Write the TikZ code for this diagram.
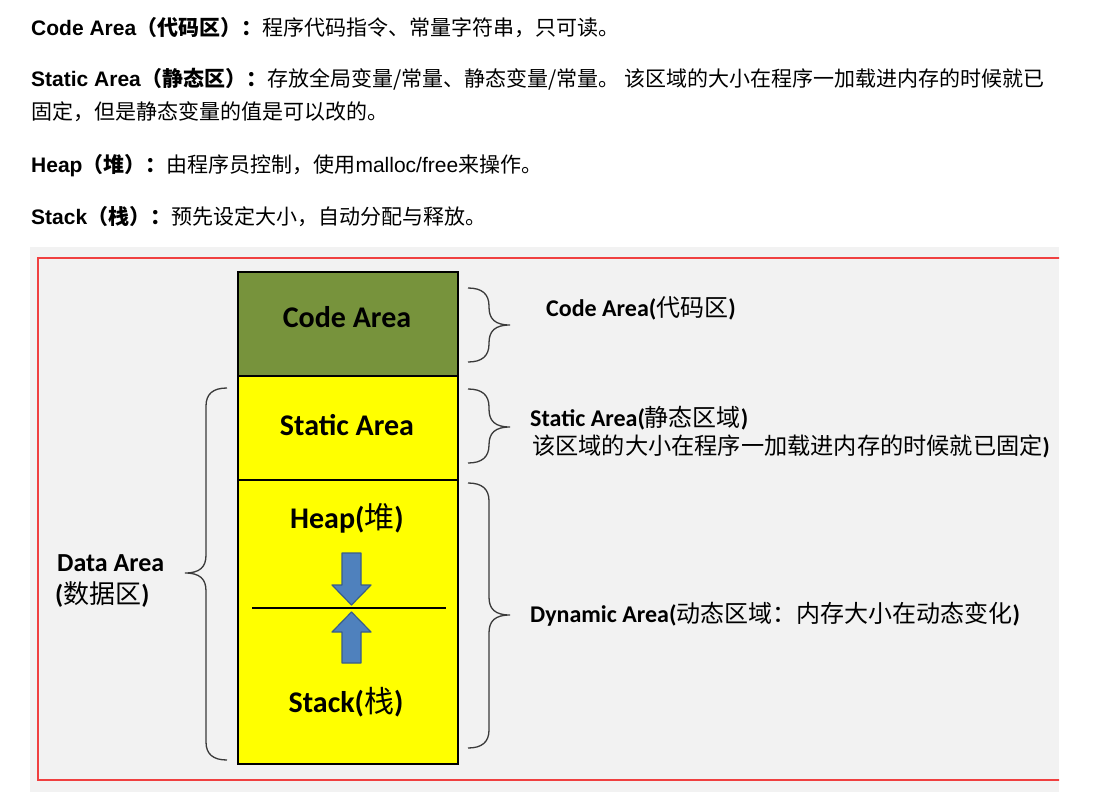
\documentclass[tikz,border=0pt]{standalone}
\usepackage{fontspec}
\setmainfont{Liberation Sans}
\newfontfamily\cjk{Noto Sans CJK SC}
\newfontfamily\calib{Carlito}
\newcommand\zh[1]{{\cjk\mdseries #1}}
\newcommand\zhb[1]{{\cjk\bfseries #1}}
\definecolor{olivebox}{HTML}{77933C}
\definecolor{ybox}{HTML}{FFFF00}
\definecolor{bgray}{HTML}{F2F2F2}
\definecolor{arrowfill}{HTML}{4F81BD}
\definecolor{arrowline}{HTML}{385D8A}
\definecolor{redframe}{HTML}{F04040}
\definecolor{bracecol}{HTML}{3A3A3A}
\tikzset{
  toptext/.style={anchor=base west, inner sep=0pt, font=\fontsize{21}{25}\selectfont},
  area/.style={draw=black, line width=2.2pt, minimum width=220pt, inner sep=0pt},
  boxlabel/.style={inner sep=0pt, font=\calib\bfseries\fontsize{30}{34}\selectfont, text height=0.72em, text depth=0.22em},
  sidelabel/.style={anchor=west, inner sep=0pt, font=\calib\bfseries\fontsize{24}{28}\selectfont, text height=0.72em, text depth=0.22em},
  datalabel/.style={anchor=west, inner sep=0pt, font=\calib\bfseries\fontsize{26}{30}\selectfont, text height=0.72em, text depth=0.22em},
  bracestyle/.style={draw=bracecol, line width=1.3pt},
  blockarrow/.style={fill=arrowfill, draw=arrowline, line width=1.2pt, line join=round},
}
\newcommand\rbr[4]{% x0, top, mid, bot : right-pointing brace
  \draw[bracestyle] (#1,#2) .. controls ({#1+14},#2) and ({#1+21},{#2+6}) .. ({#1+21},{#2+18})
    -- ({#1+21},{#3-18}) .. controls ({#1+21},{#3-6}) and ({#1+27},#3) .. ({#1+42},#3)
    .. controls ({#1+27},#3) and ({#1+21},{#3+6}) .. ({#1+21},{#3+18})
    -- ({#1+21},{#4-18}) .. controls ({#1+21},{#4-6}) and ({#1+14},#4) .. (#1,#4);}
\newcommand\lbr[4]{% x0 (right end), top, mid, bot : left-pointing brace
  \draw[bracestyle] (#1,#2) .. controls ({#1-14},#2) and ({#1-21},{#2+6}) .. ({#1-21},{#2+18})
    -- ({#1-21},{#3-18}) .. controls ({#1-21},{#3-6}) and ({#1-27},#3) .. ({#1-42},#3)
    .. controls ({#1-27},#3) and ({#1-21},{#3+6}) .. ({#1-21},{#3+18})
    -- ({#1-21},{#4-18}) .. controls ({#1-21},{#4-6}) and ({#1-14},#4) .. (#1,#4);}
\begin{document}
\begin{tikzpicture}[x=1pt,y=-1pt]
\useasboundingbox (0,0) rectangle (1093,803);
\fill[white] (0,0) rectangle (1093,803);

% ---- top description text ----
\node[toptext] (t1) at (31,35) {\textbf{Code Area}\zhb{（代码区）：}\zh{程序代码指令、常量字符串，只可读。}};
\node[toptext] (t2) at (31,86) {\textbf{Static Area}\zhb{（静态区）：}\zh{存放全局变量/常量、静态变量/常量。 该区域的大小在程序一加载进内存的时候就已}};
\node[toptext] (t3) at (31,119) {\zh{固定，但是静态变量的值是可以改的。}};
\node[toptext] (t4) at (31,172) {\textbf{Heap}\zhb{（堆）：}\zh{由程序员控制，使用}malloc/free\zh{来操作。}};
\node[toptext] (t5) at (31,224) {\textbf{Stack}\zhb{（栈）：}\zh{预先设定大小，自动分配与释放。}};

% ---- diagram panel ----
\fill[bgray] (30,247) rectangle (1059,792);
\begin{scope}
\clip (30,247) rectangle (1059,792);
\draw[redframe, line width=1.2pt] (38,258) rectangle (1075,780);

% memory column
\node[area, fill=olivebox, minimum height=104pt, anchor=north west] (code) at (237,271) {};
\node[area, fill=ybox, minimum height=104pt, anchor=north west] (static) at (237,375) {};
\node[area, fill=ybox, minimum height=284pt, anchor=north west] (dyn) at (237,479) {};

\node[boxlabel] (codelbl) at (347,325) {Code Area};
\node[boxlabel] (staticlbl) at (347,433) {Static Area};
\node[boxlabel] (heaplbl) at (347,526) {Heap(\zh{堆})};
\node[boxlabel] (stacklbl) at (346,710) {Stack(\zh{栈})};

% heap / stack boundary
\coordinate (divl) at (252,608);
\coordinate (divr) at (446,608);
\draw[black, line width=1.3pt] (divl) -- (divr);

% block arrows
\draw[blockarrow] (342,553) -- (361,553) -- (361,585) -- (371,585) -- (351.5,605) -- (332,585) -- (342,585) -- cycle;
\draw[blockarrow] (342,663) -- (361,663) -- (361,632) -- (371,632) -- (351.5,612) -- (332,632) -- (342,632) -- cycle;

% braces
\rbr{468}{288}{325}{362}
\rbr{468}{389}{427}{463}
\rbr{468}{483}{615}{748}
\lbr{227}{388}{573}{760}

% side labels
\node[sidelabel] (codeside) at (546,314) {Code Area(\zh{代码区})};
\node[sidelabel] (staticside) at (530,424) {Static Area(\zh{静态区域})};
\node[sidelabel, font=\calib\bfseries\fontsize{23.2}{28}\selectfont] (staticside2) at (532,452) {\zh{该区域的大小在程序一加载进内存的时候就已固定})};
\node[sidelabel] (dynside) at (530,620) {Dynamic Area(\zh{动态区域：内存大小在动态变化})};
\node[datalabel] (data1) at (57,569) {Data Area};
\node[datalabel] (data2) at (55,601) {(\zh{数据区})};
\end{scope}
\end{tikzpicture}
\end{document}
